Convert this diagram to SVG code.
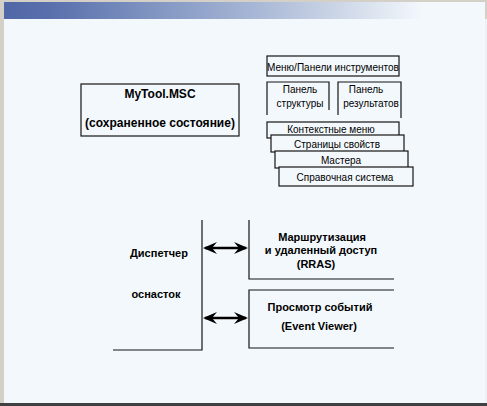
<svg xmlns="http://www.w3.org/2000/svg" width="487" height="406" viewBox="0 0 487 406">
<defs>
<linearGradient id="band" x1="0" y1="0" x2="1" y2="0">
<stop offset="0" stop-color="#5067a8"/>
<stop offset="0.1" stop-color="#5a70ac"/>
<stop offset="0.3" stop-color="#7e93c0"/>
<stop offset="0.5" stop-color="#a3b3d3"/>
<stop offset="0.7" stop-color="#cdd7e7"/>
<stop offset="0.87" stop-color="#f3f8fc"/>
<stop offset="1" stop-color="#f3f8fc"/>
</linearGradient>
<marker id="ah" viewBox="0 0 14 12" refX="12" refY="6" markerWidth="14" markerHeight="12" markerUnits="userSpaceOnUse" orient="auto-start-reverse">
<path d="M0,0 L14,6 L0,12 L5,6 Z" fill="#000"/>
</marker>
<style>
.ln{fill:none;stroke:#151515;stroke-width:1.2}
.bx{fill:#f3f8fc;stroke:#151515;stroke-width:1.2}
.t{font-family:"Liberation Sans",Arial,sans-serif;font-size:10px;fill:#000}
.b{font-family:"Liberation Sans",Arial,sans-serif;font-weight:bold;fill:#000}
.ar{stroke:#000;stroke-width:2.4;fill:none}
</style>
</defs>
<rect x="0" y="0" width="487" height="406" fill="#d4d0c8"/>
<rect x="4" y="2" width="481" height="402" fill="#f3f8fc"/>
<rect x="485" y="19" width="2" height="385" fill="#eef2f6"/>
<rect x="4" y="2" width="481" height="17" fill="url(#band)"/>
<rect x="0" y="403" width="487" height="3" fill="#404040"/>

<g id="mytool">
<rect class="bx" x="81" y="84" width="158" height="52"/>
<text class="b" x="160" y="98" font-size="12" text-anchor="middle">MyTool.MSC</text>
<text class="b" x="160" y="127" font-size="12" text-anchor="middle">(сохраненное состояние)</text>
</g>

<g id="menu">
<rect class="bx" x="267" y="56" width="132" height="20"/>
<text class="t" x="333" y="71" text-anchor="middle">Меню/Панели инструментов</text>
</g>
<g id="panel-struct">
<path class="ln" d="M267,115 V82 H329 V110"/>
<text class="t" x="300" y="93" text-anchor="middle">Панель</text>
<text class="t" x="300" y="107" text-anchor="middle">структуры</text>
</g>
<g id="panel-results">
<path class="ln" d="M338,115 V82 H401 V118"/>
<text class="t" x="366" y="93" text-anchor="middle">Панель</text>
<text class="t" x="371" y="107" text-anchor="middle">результатов</text>
</g>
<g id="context">
<rect class="bx" x="267" y="122" width="132" height="16"/>
<text class="t" x="331" y="133" text-anchor="middle">Контекстные меню</text>
</g>
<g id="pages">
<rect class="bx" x="271" y="135" width="133" height="17"/>
<text class="t" x="337" y="148" text-anchor="middle">Страницы свойств</text>
</g>
<g id="wizards">
<rect class="bx" x="275" y="151" width="133" height="17"/>
<text class="t" x="341" y="164" text-anchor="middle">Мастера</text>
</g>
<g id="help">
<rect class="bx" x="279" y="167" width="134" height="19"/>
<text class="t" x="345" y="181" text-anchor="middle">Справочная система</text>
</g>

<g id="snapin">
<path class="ln" d="M202,220 V350 H113"/>
<text class="b" x="159" y="257" font-size="11" text-anchor="middle">Диспетчер</text>
<text class="b" x="156" y="298" font-size="11" text-anchor="middle">оснасток</text>
</g>
<g id="rras">
<path class="ln" d="M249,220 V279 H394"/>
<text class="b" x="322" y="241" font-size="11" text-anchor="middle">Маршрутизация</text>
<text class="b" x="321" y="254" font-size="11" text-anchor="middle">и удаленный доступ</text>
<text class="b" x="316" y="268" font-size="11" text-anchor="middle">(RRAS)</text>
</g>
<g id="eventviewer">
<path class="ln" d="M394,290 H249 V348 H394"/>
<text class="b" x="320" y="311" font-size="11" text-anchor="middle">Просмотр событий</text>
<text class="b" x="319" y="330" font-size="11" text-anchor="middle">(Event Viewer)</text>
</g>

<g id="connectors">
<line class="ar" x1="205" y1="248" x2="246" y2="248" marker-start="url(#ah)" marker-end="url(#ah)"/>
<line class="ar" x1="205" y1="318" x2="246" y2="318" marker-start="url(#ah)" marker-end="url(#ah)"/>
</g>
</svg>
